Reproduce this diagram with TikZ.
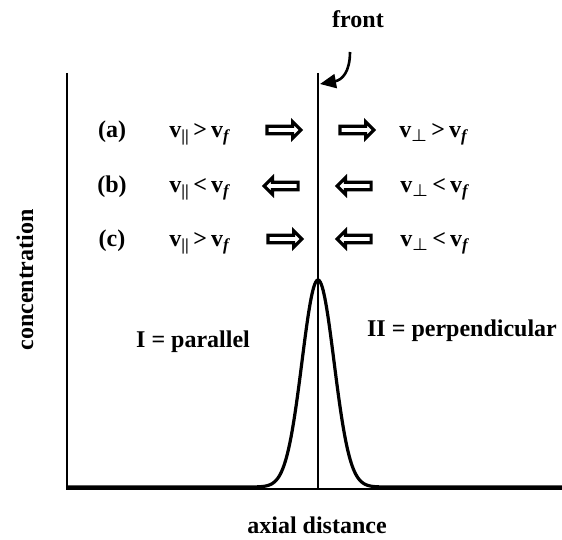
\documentclass[tikz,border=0pt]{standalone}
\usepackage{amsmath}
\usepackage{fontspec}
\setmainfont{Liberation Serif}
\usetikzlibrary{shapes.arrows,arrows.meta}

\newcommand{\vpar}{v\textsubscript{||}}
\newcommand{\vperp}{v\textsubscript{$\boldsymbol{\perp}$}}
\newcommand{\vfr}{v\textsubscript{\textit{f}}}

\tikzset{
  lbl/.style={font=\fontsize{24}{27}\selectfont\bfseries, inner sep=0pt, anchor=base},
  hollow/.style={single arrow, draw, line width=3.2pt, minimum height=34pt,
    inner sep=2.2pt, single arrow head extend=4.5pt},
}

\begin{document}
\begin{tikzpicture}[x=1pt,y=-1pt]
    \useasboundingbox (0,0) rectangle (562,540);

    % Ejes
    \draw[line width=2pt] (67,73) -- (67,489) -- (562,489);
    \node[lbl,rotate=90] (conc) at (33,280) {concentration};
    \node[lbl] (axial) at (317,533) {axial distance};

    % Perfil de concentracion
    \draw[line width=3.2pt, line join=round] (67,487) -- (250,487)
      -- plot[domain=250:386, samples=150] (\x,{487-207*exp(-((\x-318)^2)/512)})
      -- (562,487);

    % Frente
    \draw[line width=2pt] (318,73) -- (318,488);
    \node[lbl] (front) at (358,28) {front};
    \coordinate (fs) at (350,52);
    \coordinate (ft) at (320,84);
    \draw[line width=2.6pt, -{Triangle[length=16pt,width=14pt]}]
      (fs) .. controls (350,72) and (342,80) .. (ft);

    % Caso (a)
    \node[lbl] (la) at (112,138) {(a)};
    \node[lbl] (pa) at (200,138) {\vpar\,>\,\vfr};
    \node[hollow] (ala) at (282,130) {};
    \node[hollow] (ara) at (355,130) {};
    \node[lbl] (qa) at (434,138) {\vperp\,>\,\vfr};

    % Caso (b)
    \node[lbl] (lb) at (112,193) {(b)};
    \node[lbl] (pb) at (200,193) {\vpar\,<\,\vfr};
    \node[hollow,shape border rotate=180] (alb) at (283,186) {};
    \node[hollow,shape border rotate=180] (arb) at (356,186) {};
    \node[lbl] (qb) at (435,193) {\vperp\,<\,\vfr};

    % Caso (c)
    \node[lbl] (lc) at (112,247) {(c)};
    \node[lbl] (pc) at (200,247) {\vpar\,>\,\vfr};
    \node[hollow] (alc) at (283,239) {};
    \node[hollow,shape border rotate=180] (arc) at (356,239) {};
    \node[lbl] (qc) at (435,247) {\vperp\,<\,\vfr};

    % Regiones
    \node[lbl] (reg1) at (193,347) {I = parallel};
    \node[lbl] (reg2) at (462,336) {II = perpendicular};
\end{tikzpicture}
\end{document}
